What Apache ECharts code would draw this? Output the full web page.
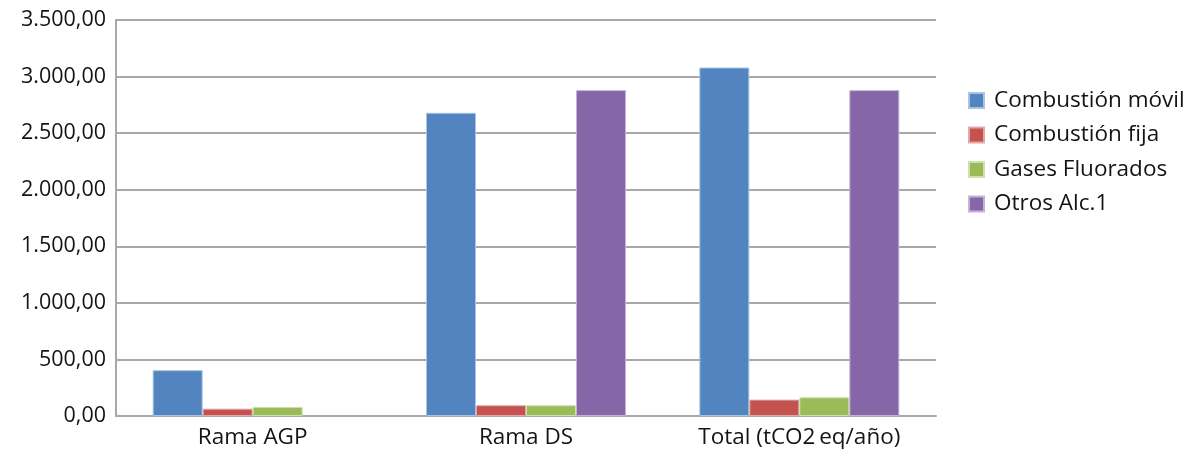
<!DOCTYPE html>
<html>
<head>
<meta charset="utf-8">
<script src="https://cdn.jsdelivr.net/npm/echarts@6/dist/echarts.min.js"></script>
<style>html,body{margin:0;padding:0;background:#fff}#c{width:1199px;height:451px}</style>
</head>
<body>
<div id="c"></div>
<script>
const categories = ['Rama AGP', 'Rama DS', 'Total (tCO2\u2009eq/año)'];
const seriesNames = ['Combustión móvil', 'Combustión fija', 'Gases Fluorados', 'Otros Alc.1'];
const combustionMovil = [405, 2680, 3080];
const combustionFija = [65, 95, 145];
const gasesFluorados = [80, 95, 165];
const otrosAlc1 = [0, 2880, 2880];
const yTicks = [0, 500, 1000, 1500, 2000, 2500, 3000, 3500];

const colors = ['#5285c0', '#c4534f', '#9bbb59', '#8566a6'];
const borders = ['#a9c3e3', '#e0a9a7', '#cde0ad', '#c3b3d6'];
const values = [combustionMovil, combustionFija, gasesFluorados, otrosAlc1];
const font = '"Open Sans", "Noto Sans", sans-serif';
const textColor = '#141414';

function fmt(v) {
  const s = Math.round(v).toString().replace(/\B(?=(\d{3})+(?!\d))/g, '.');
  return s + ',00';
}

const chart = echarts.init(document.getElementById('c'), null, {renderer: 'canvas'});
chart.setOption({
  animation: false,
  textStyle: {fontFamily: font},
  grid: {left: 116, right: 263, top: 20, bottom: 35, containLabel: false},
  legend: {
    orient: 'vertical',
    left: 968,
    top: 89,
    padding: 0,
    itemWidth: 15,
    itemHeight: 15,
    itemGap: 11.5,
    icon: 'rect',
    textStyle: {fontSize: 22.5, color: textColor, fontFamily: font, padding: [0, 0, 0, 5]},
    data: seriesNames
  },
  xAxis: {
    type: 'category',
    data: categories,
    axisTick: {show: false},
    axisLine: {lineStyle: {color: '#a8a8a8', width: 2}},
    axisLabel: {fontSize: 22.5, color: textColor, margin: 10, fontFamily: font}
  },
  yAxis: {
    type: 'value',
    min: yTicks[0],
    max: yTicks[yTicks.length - 1],
    interval: 500,
    axisLine: {show: true, lineStyle: {color: '#a8a8a8', width: 2}},
    axisTick: {show: false},
    splitLine: {lineStyle: {color: '#a8a8a8', width: 2}},
    axisLabel: {fontSize: 21.5, color: textColor, margin: 10, formatter: fmt, fontFamily: font}
  },
  series: seriesNames.map((n, i) => ({
    name: n,
    type: 'bar',
    data: values[i].map(v => v === 0 ? {value: v, itemStyle: {borderWidth: 0}} : v),
    barWidth: 50,
    barGap: '0%',
    itemStyle: {color: colors[i], borderColor: borders[i], borderWidth: 1}
  }))
});
</script>
</body>
</html>
